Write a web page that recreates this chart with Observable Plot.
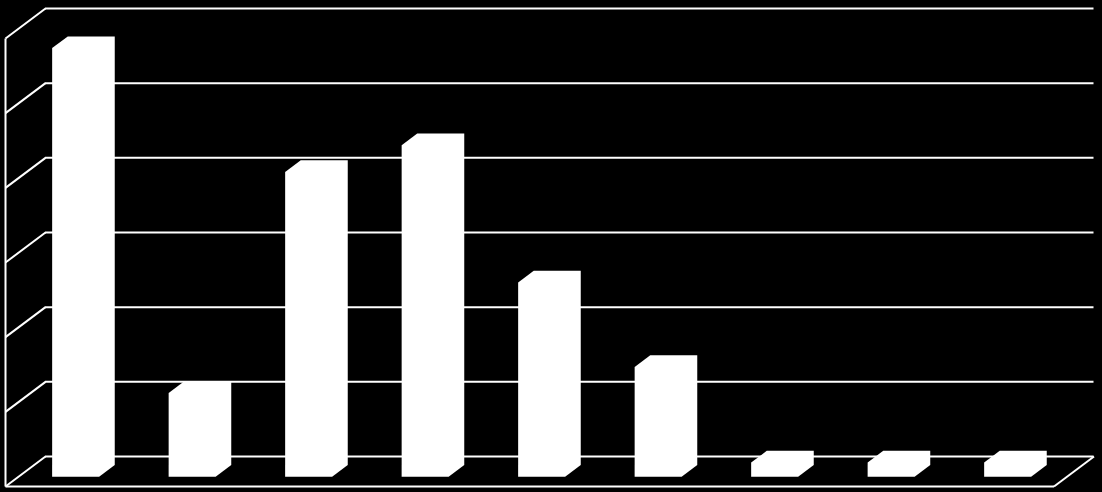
<!DOCTYPE html>
<html>
<head>
<meta charset="utf-8">
<script src="https://cdn.jsdelivr.net/npm/d3@7"></script>
<script src="https://cdn.jsdelivr.net/npm/@observablehq/plot@0.6"></script>
<style>
  html, body { margin: 0; padding: 0; background: #000; }
  #chart { width: 1102px; height: 492px; overflow: hidden; }
</style>
</head>
<body>
<div id="chart"></div>
<script>
// ---- data ----
const categories = ["1", "2", "3", "4", "5", "6", "7", "8", "9"];
const values = [57.4, 11.2, 40.8, 44.4, 26.0, 14.7, 1.9, 1.9, 1.9];
const ticks = [0, 10, 20, 30, 40, 50, 60];

// ---- oblique 3D geometry (pixels) ----
const W = 1102, H = 492;
const xRange = [5, 1053.5], xDomain = [0, categories.length];
const yRange = [486, 38], yDomain = [0, 60];
const kx = (xRange[1] - xRange[0]) / (xDomain[1] - xDomain[0]); // px per category
const ky = (yRange[0] - yRange[1]) / (yDomain[1] - yDomain[0]); // px per value unit
const depthPx = [40, 30];           // floor depth vector (right, up)
const DX = depthPx[0] / kx, DY = depthPx[1] / ky; // in data units
const barFront = 0.31, barBack = 0.70; // fraction of depth
const barWidth = 47 / kx;

// bar hexagons as areas (front face + top + side)
const barPts = [];
categories.forEach((c, i) => {
  const v = values[i];
  const fx = barFront * DX, fy = barFront * DY;
  const bx = (barBack - barFront) * DX, by = (barBack - barFront) * DY;
  const L = i + 0.5 - barWidth / 2 + fx, R = L + barWidth;
  const b = fy, t = v + fy;
  barPts.push({bar: c, x: L, y1: b, y2: t});
  barPts.push({bar: c, x: L + bx, y1: b, y2: t + by});
  barPts.push({bar: c, x: R, y1: b, y2: t + by});
  barPts.push({bar: c, x: R + bx, y1: b + by, y2: t + by});
});

const line = {stroke: "white", strokeWidth: 2};

const plot = Plot.plot({
  width: W,
  height: H,
  margin: 0,
  style: {background: "#000"},
  x: {type: "linear", domain: xDomain, range: xRange, axis: null},
  y: {type: "linear", domain: yDomain, range: yRange, axis: null},
  marks: [
    // back wall gridlines
    Plot.ruleY(ticks, {y: d => d + DY, x1: () => DX, x2: () => xDomain[1] + DX, ...line}),
    // side wall diagonals
    Plot.link(ticks, {x1: () => 0, y1: d => d, x2: () => DX, y2: d => d + DY, ...line}),
    // side wall front edge
    Plot.link([0], {x1: () => 0, y1: () => yDomain[0], x2: () => 0, y2: () => yDomain[1], ...line}),
    // floor front edge
    Plot.link([0], {x1: () => 0, y1: () => 0, x2: () => xDomain[1], y2: () => 0, ...line}),
    // floor right edge
    Plot.link([0], {x1: () => xDomain[1], y1: () => 0, x2: () => xDomain[1] + DX, y2: () => DY, ...line}),
    // bars
    Plot.area(barPts, {x1: "x", y1: "y1", y2: "y2", z: "bar", fill: "white", curve: "linear"})
  ]
});
document.getElementById("chart").appendChild(plot);
</script>
</body>
</html>
